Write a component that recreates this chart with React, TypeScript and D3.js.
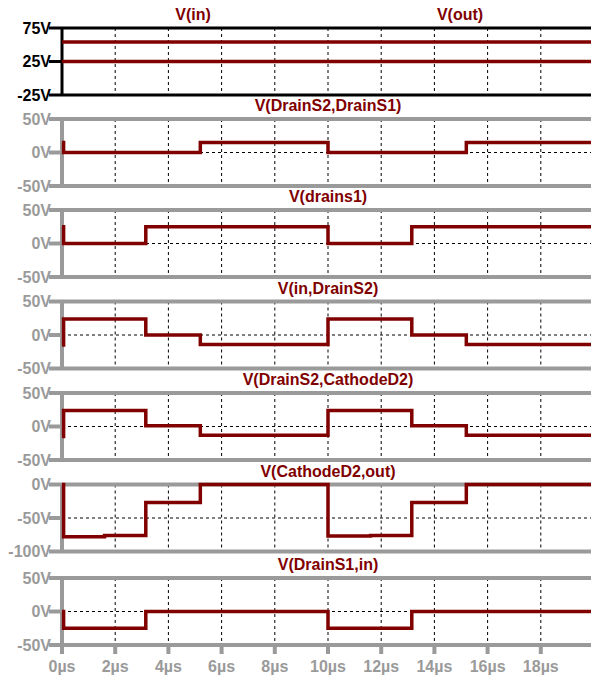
import * as d3 from 'd3';

// ── Data ──

const timeTicks = [0, 2, 4, 6, 8, 10, 12, 14, 16, 18];

// shared event times (µs); curves are step-after
const eventTimes = [0, 0.06, 1.6, 3.15, 5.2, 10, 11.6, 13.15, 15.2, 20];

const vIn = [54, 54, 54, 54, 54, 54, 54, 54, 54, 54];
const vOut = [25, 25, 25, 25, 25, 25, 25, 25, 25, 25];
const vDrainS2DrainS1 = [15, 0, 0, 0, 15, 0, 0, 0, 15, 15];
const vDrains1 = [25, 0, 0, 25, 25, 0, 0, 25, 25, 25];
const vInDrainS2 = [-15, 24, 24, 0, -14, 24, 24, 0, -14, -14];
const vDrainS2CathodeD2 = [-15, 24, 24, 1, -13, 24, 24, 1, -13, -13];
const vCathodeD2Out = [0, -78, -76, -27, 0, -77, -76, -27, 0, 0];
const vDrainS1In = [0, -25, -25, 0, 0, -25, -25, 0, 0, 0];

interface Trace {
  label: string;
  values: number[];
  labelX?: number;
}

interface Panel {
  traces: Trace[];
  domain: [number, number];
  ticks: number[];
  grid: number;
  dark?: boolean;
}

const panels: Panel[] = [
  {
    traces: [
      { label: 'V(in)', values: vIn, labelX: 193 },
      { label: 'V(out)', values: vOut, labelX: 460 },
    ],
    domain: [-25, 75],
    ticks: [75, 25, -25],
    grid: 25,
    dark: true,
  },
  { traces: [{ label: 'V(DrainS2,DrainS1)', values: vDrainS2DrainS1 }], domain: [-50, 50], ticks: [50, 0, -50], grid: 0 },
  { traces: [{ label: 'V(drains1)', values: vDrains1 }], domain: [-50, 50], ticks: [50, 0, -50], grid: 0 },
  { traces: [{ label: 'V(in,DrainS2)', values: vInDrainS2 }], domain: [-50, 50], ticks: [50, 0, -50], grid: 0 },
  { traces: [{ label: 'V(DrainS2,CathodeD2)', values: vDrainS2CathodeD2 }], domain: [-50, 50], ticks: [50, 0, -50], grid: 0 },
  { traces: [{ label: 'V(CathodeD2,out)', values: vCathodeD2Out }], domain: [-100, 0], ticks: [0, -50, -100], grid: -50 },
  { traces: [{ label: 'V(DrainS1,in)', values: vDrainS1In }], domain: [-50, 50], ticks: [50, 0, -50], grid: 0 },
];

// ── Layout ──

const W = 591;
const H = 680;
const X0 = 62;
const PANEL_TOPS = [28, 119, 210, 301.5, 393, 484.5, 578];
const PANEL_H = 67;
const TRACE = '#800000';
const GRAY = '#9a9a9a';
const FONT = '"Liberation Sans", Arial, sans-serif';

const x = d3.scaleLinear().domain([0, 20]).range([X0, X0 + 20 * 26.6]);

export default function App() {
  return (
    <svg
      width={W}
      height={H}
      style={{ position: 'absolute', left: 0, top: 0, background: '#fff' }}
      fontFamily={FONT}
      fontWeight="bold"
    >
      {panels.map((p, i) => {
        const top = PANEL_TOPS[i];
        const y = d3.scaleLinear().domain(p.domain).range([top + PANEL_H, top]);
        const axisColor = p.dark ? '#000' : GRAY;
        const axisW = p.dark ? 3 : 4;
        const line = d3
          .line<number>()
          .x((_, k) => x(eventTimes[k]))
          .y((v) => y(v))
          .curve(d3.curveStepAfter);
        return (
          <g key={i}>
            {/* grid */}
            {timeTicks.slice(1).map((t) => (
              <line
                key={t}
                x1={x(t)}
                x2={x(t)}
                y1={top}
                y2={top + PANEL_H}
                stroke="#000"
                strokeWidth={1}
                strokeDasharray="3,3"
              />
            ))}
            <line
              x1={X0}
              x2={W}
              y1={y(p.grid)}
              y2={y(p.grid)}
              stroke="#000"
              strokeWidth={1}
              strokeDasharray="3,3"
            />
            {/* frame */}
            <line x1={49} x2={W} y1={top} y2={top} stroke={axisColor} strokeWidth={axisW} />
            <line x1={49} x2={W} y1={top + PANEL_H} y2={top + PANEL_H} stroke={axisColor} strokeWidth={axisW} />
            <line x1={49} x2={X0} y1={y(p.ticks[1])} y2={y(p.ticks[1])} stroke={axisColor} strokeWidth={axisW} />
            <line x1={X0} x2={X0} y1={top} y2={top + PANEL_H} stroke={axisColor} strokeWidth={axisW} />
            {p.ticks.map((t) => (
              <text
                key={t}
                x={51}
                y={y(t)}
                dy="0.36em"
                textAnchor="end"
                fontSize={16}
                fill={p.dark ? '#000' : GRAY}
              >
                {t}V
              </text>
            ))}
            {/* traces */}
            {p.traces.map((tr) => (
              <g key={tr.label}>
                <path d={line(tr.values) ?? ''} fill="none" stroke={TRACE} strokeWidth={3.5} />
                <text x={tr.labelX ?? 328} y={top - 8} textAnchor="middle" fontSize={16} fill={TRACE}>
                  {tr.label}
                </text>
              </g>
            ))}
          </g>
        );
      })}
      {/* x axis */}
      {timeTicks.map((t) => {
        const yb = PANEL_TOPS[6] + PANEL_H;
        return (
          <g key={t}>
            <line x1={x(t)} x2={x(t)} y1={yb} y2={yb + 9} stroke={GRAY} strokeWidth={4} />
            <text x={x(t)} y={672} textAnchor="middle" fontSize={16} fill={GRAY}>
              {t}µs
            </text>
          </g>
        );
      })}
    </svg>
  );
}
